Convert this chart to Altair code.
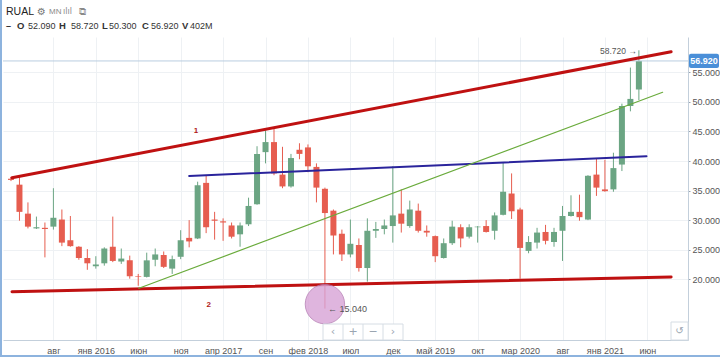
import json
import altair as alt
import pandas as pd

# ---------------- data ----------------
months = pd.date_range("2015-03-01", periods=75, freq="MS").strftime("%Y-%m").tolist()

open_ = [37.0, 36.0, 31.1, 28.6, 28.7, 28.9, 30.1, 26.6, 25.5, 23.6,
         22.2, 22.7, 25.5, 23.0, 23.2, 20.5, 20.4, 23.3, 24.1, 21.8,
         23.8, 27.0, 26.9, 36.3, 30.1, 29.8, 29.1, 27.6, 29.3, 32.7,
         41.5, 43.2, 37.7, 35.7, 41.9, 42.3, 39.0, 35.3, 31.6, 27.7,
         24.2, 25.8, 21.9, 28.2, 28.5, 29.0, 31.1, 29.0, 31.6, 28.2,
         27.3, 23.6, 26.1, 28.8, 27.2, 28.8, 29.0, 28.2, 30.9, 34.5,
         31.8, 24.8, 26.2, 28.0, 26.3, 28.2, 30.7, 31.4, 30.1, 37.7,
         35.2, 35.2, 39.4, 49.3, 52.09]
high = [37.3, 37.3, 33.0, 30.6, 29.6, 35.4, 31.8, 30.7, 25.6, 25.1,
        23.9, 25.4, 30.6, 25.2, 24.0, 20.9, 24.5, 25.2, 24.7, 24.0,
        28.3, 30.0, 36.5, 37.5, 31.4, 30.3, 29.6, 29.6, 33.8, 42.5,
        45.2, 45.4, 42.4, 41.2, 43.0, 42.8, 39.6, 35.5, 31.8, 28.4,
        30.1, 26.9, 30.3, 29.7, 30.1, 39.1, 35.2, 33.3, 32.8, 29.1,
        27.4, 26.9, 29.9, 29.3, 29.3, 29.0, 30.0, 31.3, 39.7, 37.9,
        32.1, 27.3, 28.7, 29.2, 28.7, 32.4, 34.2, 34.3, 37.6, 40.5,
        40.2, 41.4, 49.7, 55.8, 58.72]
low = [36.6, 29.9, 28.6, 28.5, 23.7, 28.4, 25.6, 25.5, 23.3, 21.6,
       21.8, 22.3, 22.9, 22.6, 20.1, 18.9, 20.3, 22.2, 21.9, 20.9,
       23.4, 25.4, 26.8, 27.8, 26.7, 26.5, 26.9, 25.5, 29.0, 32.6,
       39.6, 37.6, 35.4, 35.5, 40.3, 38.1, 33.0, 15.04, 24.2, 23.1,
       23.7, 21.3, 19.6, 27.0, 27.6, 26.2, 27.9, 28.7, 27.9, 27.2,
       22.9, 23.5, 25.8, 25.4, 26.9, 26.2, 27.9, 26.7, 30.8, 30.2,
       20.1, 24.4, 25.2, 25.9, 25.5, 23.1, 30.6, 29.9, 30.0, 34.1,
       34.8, 34.8, 38.3, 48.4, 50.30]
close = [36.8, 31.4, 28.9, 28.8, 28.5, 30.4, 26.2, 25.6, 23.6, 22.7,
         22.5, 25.2, 23.1, 23.5, 20.5, 20.4, 23.2, 24.2, 22.1, 23.4,
         26.6, 26.4, 35.9, 28.8, 29.9, 29.6, 27.2, 29.1, 32.4, 41.2,
         43.2, 37.9, 35.7, 40.5, 41.2, 39.1, 35.5, 31.2, 27.4, 24.2,
         26.0, 21.9, 28.2, 28.5, 29.1, 30.8, 29.4, 31.8, 28.2, 27.9,
         23.9, 26.1, 28.9, 26.9, 28.8, 28.9, 28.0, 30.8, 34.8, 31.5,
         25.3, 26.3, 27.9, 26.5, 28.0, 30.7, 31.4, 30.5, 37.5, 35.5,
         34.9, 38.8, 49.3, 50.5, 56.92]
volume_label = "402M"
ticker = "RUAL"
interval = "MN"

# time-axis ticks (month index) and their labels
tick_index = [5, 10, 15, 20, 25, 30, 35, 40, 45, 50, 55, 60, 65, 70, 75]
tick_labels = ["авг", "янв 2016", "июн", "ноя", "апр 2017", "сен", "фев 2018", "июл",
               "дек", "май 2019", "окт", "мар 2020", "авг", "янв 2021", "июн"]
price_ticks = [20, 25, 30, 35, 40, 45, 50, 55]

# drawn trend lines (month index, price) endpoints
upper_i, upper_p = [0.12, 77.8], [37.18, 58.48]
lower_i, lower_p = [0.12, 77.8], [17.90, 20.39]
blue_i, blue_p = [21.0, 74.9], [37.47, 40.80]
green_i, green_p = [15.08, 76.8], [18.48, 51.62]

# annotations
label_text = ["1", "2"]
label_i = [21.8, 23.3]
label_p = [45.07, 15.6]
circle_i, circle_p = [37], [15.8]

# ---------------- chart ----------------
W, H = 685, 303
UP, DOWN = "#6ba583", "#e65d4f"
FONT = "Liberation Sans"

df = pd.DataFrame({"month": months, "i": list(range(len(months))),
                   "open": open_, "high": high, "low": low, "close": close})

x_scale = alt.Scale(domain=[-0.35, 79.2], nice=False, zero=False)
y_scale = alt.Scale(domain=[9.73, 60.97], nice=False, zero=False)

label_js = json.dumps(tick_labels, ensure_ascii=False)
x_axis = alt.Axis(values=tick_index, labelExpr=f"{label_js}[round((datum.value-5)/5)]",
                  title=None, ticks=False, labelPadding=6, labelFontSize=9,
                  labelColor="#555555", labelFont=FONT, gridColor="#eef1f4",
                  domainColor="#c3cfdb", labelFlush=False)
y_axis = alt.Axis(values=price_ticks, format=".3f", orient="right", title=None,
                  labelFontSize=9, labelColor="#555555", labelFont=FONT,
                  tickSize=2, tickColor="#9aa5b1", labelPadding=2,
                  gridColor="#eef1f4", domainColor="#c3cfdb")


def X(field):
    return alt.X(field, type="quantitative", scale=x_scale, axis=x_axis)


def Y(field):
    return alt.Y(field, type="quantitative", scale=y_scale, axis=y_axis)


color = alt.condition("datum.close >= datum.open", alt.value(UP), alt.value(DOWN))
base = alt.Chart(df)
wicks = base.mark_rule(strokeWidth=1).encode(x=X("i"), y=Y("low"), y2="high:Q", color=color)
bodies = base.mark_bar(size=6).encode(x=X("i"), y=Y("open"), y2="close:Q", color=color)


def seg(xs, ps, col, w):
    d = pd.DataFrame({"i": xs, "p": ps})
    return alt.Chart(d).mark_line(color=col, strokeWidth=w, strokeCap="round").encode(x=X("i"), y=Y("p"))


upper = seg(upper_i, upper_p, "#bf1111", 3)
lower = seg(lower_i, lower_p, "#bf1111", 3)
blue = seg(blue_i, blue_p, "#2a249c", 2)
green = seg(green_i, green_p, "#6aab3c", 1.2)

last = pd.DataFrame({"p": [close[-1]]})
last_line = alt.Chart(last).mark_rule(color="#b9cde0", strokeWidth=1).encode(y=Y("p"))

circle = alt.Chart(pd.DataFrame({"i": circle_i, "p": circle_p})).mark_circle(
    size=1550, color="#d8a3d6", opacity=0.8, stroke="#b57cb4", strokeWidth=1
).encode(x=X("i"), y=Y("p"))

labels = alt.Chart(pd.DataFrame({"i": label_i, "p": label_p, "t": label_text})).mark_text(
    color="#b01818", fontSize=8, fontWeight="bold", font=FONT
).encode(x=X("i"), y=Y("p"), text="t:N")

low_row = df.loc[[df["low"].idxmin()]]
low_txt = alt.Chart(low_row).mark_text(
    align="left", dx=3, fontSize=9, color="#555555", font=FONT
).encode(x=X("i"), y=Y("low"), text=alt.Text("label:N")).transform_calculate(
    label="'← ' + format(datum.low, '.3f')")

high_row = df.loc[[df["high"].idxmax()]]
high_txt = alt.Chart(high_row).mark_text(
    align="right", dx=-2, dy=1, fontSize=8.5, color="#555555", font=FONT
).encode(x=X("i"), y=Y("high"), text=alt.Text("label:N")).transform_calculate(
    label="format(datum.high, '.3f') + ' →'")

tag_rect = alt.Chart(last).mark_rect(color="#4a8fd8", cornerRadius=2).encode(
    x=alt.value(W + 1), x2=alt.value(W + 31), y=Y("lo"), y2="hi:Q"
).transform_calculate(lo="datum.p - 1.2", hi="datum.p + 1.2")
tag_txt = alt.Chart(last).mark_text(
    color="white", fontSize=9, fontWeight="bold", font=FONT
).encode(x=alt.value(W + 16), y=Y("p"), text=alt.Text("p:Q", format=".3f"))

one = pd.DataFrame({"k": [0]})


def txt(s, x, y, **kw):
    opts = dict(align="left", baseline="middle", fontSize=9, font=FONT, color="#333333")
    opts.update(kw)
    return alt.Chart(one).mark_text(text=s, **opts).encode(x=alt.value(x), y=alt.value(y))


header = [
    txt(ticker, 3, -25, fontSize=10.5, color="#222222"),
    txt("⚙", 34, -25, fontSize=10, color="#777777", font="DejaVu Sans"),
    txt(interval, 46, -25, fontSize=8, color="#8a8a8a"),
    txt("ılıl", 60, -25, fontSize=8, color="#8a8a8a", font="DejaVu Sans"),
    txt("⧉", 76, -25, fontSize=10, color="#8a8a8a", font="DejaVu Sans"),
    txt("–", 3, -11, fontWeight="bold", fontSize=9),
    txt("O", 14, -11, fontWeight="bold", fontSize=9.5),
    txt(f"{open_[-1]:.3f}", 25, -11),
    txt("H", 56, -11, fontWeight="bold", fontSize=9.5),
    txt(f"{high[-1]:.3f}", 68, -11),
    txt("L", 99, -11, fontWeight="bold", fontSize=9.5),
    txt(f"{low[-1]:.3f}", 106, -11),
    txt("C", 139, -11, fontWeight="bold", fontSize=9.5),
    txt(f"{close[-1]:.3f}", 148, -11),
    txt("V", 179, -11, fontWeight="bold", fontSize=9.5),
    txt(volume_label, 187, -11),
]

# navigation buttons (UI decoration)
bx = 320
btn_box = alt.Chart(one).mark_rect(fill="white", stroke="#d6dde4", strokeWidth=1).encode(
    x=alt.value(bx), x2=alt.value(bx + 80), y=alt.value(H - 16), y2=alt.value(H))
btns = [txt(s, bx + 10 + k * 20, H - 8, fontSize=11, color="#9aa5b1", align="center", font="DejaVu Sans")
        for k, s in enumerate(["‹", "+", "−", "›"])]
btn_div = [alt.Chart(one).mark_rule(color="#d6dde4").encode(
    x=alt.value(bx + 20 * k), y=alt.value(H - 16), y2=alt.value(H)) for k in (1, 2, 3)]
reset_box = alt.Chart(one).mark_rect(fill="white", stroke="#d6dde4").encode(
    x=alt.value(W - 17), x2=alt.value(W), y=alt.value(H - 18), y2=alt.value(H))
reset_txt = txt("↺", W - 8.5, H - 9, fontSize=10, color="#9aa5b1", align="center", font="DejaVu Sans")

# widget frame
frame_left = alt.Chart(one).mark_rule(color="#8db3de", strokeWidth=2).encode(
    x=alt.value(-2), y=alt.value(-37), y2=alt.value(H + 17))
frame_bottom = alt.Chart(one).mark_rule(color="#8db3de", strokeWidth=2).encode(
    x=alt.value(-3), x2=alt.value(W + 32), y=alt.value(H + 16))

chart = alt.layer(
    wicks, bodies, last_line, upper, lower, blue, green, circle, labels,
    low_txt, high_txt, tag_rect, tag_txt, *header, btn_box, *btn_div, *btns,
    reset_box, reset_txt, frame_left, frame_bottom
).properties(
    width=W, height=H,
    autosize=alt.AutoSizeParams(type="none"),
    padding={"left": 3, "top": 37, "right": 32, "bottom": 17},
    background="white",
).configure_view(stroke=None)

chart.save("out.html", embed_options={"renderer": "svg", "actions": False})
